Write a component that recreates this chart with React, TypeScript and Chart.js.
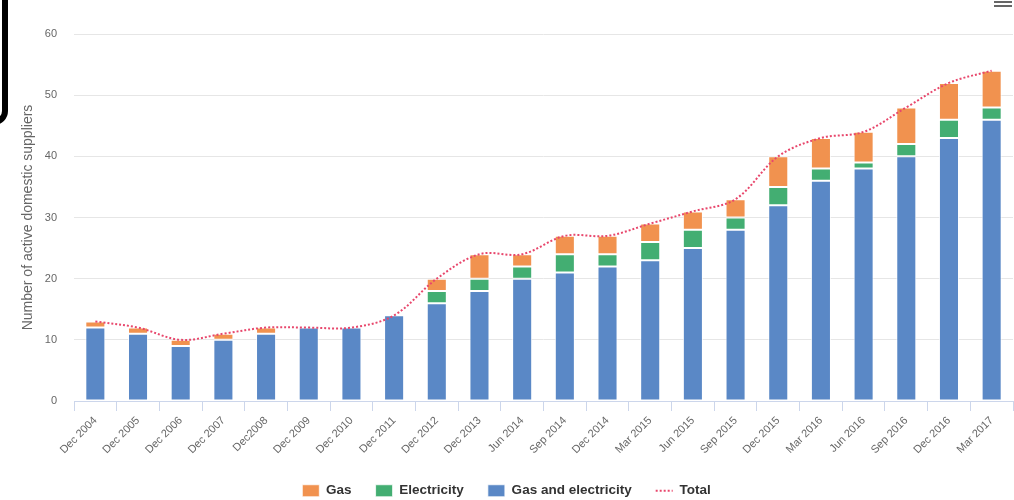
import React, { useEffect, useRef } from "react";
import { Chart, registerables } from "chart.js";

Chart.register(...registerables);

const categories = [
  "Dec 2004", "Dec 2005", "Dec 2006", "Dec 2007", "Dec2008", "Dec 2009",
  "Dec 2010", "Dec 2011", "Dec 2012", "Dec 2013", "Jun 2014", "Sep 2014",
  "Dec 2014", "Mar 2015", "Jun 2015", "Sep 2015", "Dec 2015", "Mar 2016",
  "Jun 2016", "Sep 2016", "Dec 2016", "Mar 2017",
];
const gasAndElectricity = [12, 11, 9, 10, 11, 12, 12, 14, 16, 18, 20, 21, 22, 23, 25, 28, 32, 36, 38, 40, 43, 46];
const electricity = [0, 0, 0, 0, 0, 0, 0, 0, 2, 2, 2, 3, 2, 3, 3, 2, 3, 2, 1, 2, 3, 2];
const gas = [1, 1, 1, 1, 1, 0, 0, 0, 2, 4, 2, 3, 3, 3, 3, 3, 5, 5, 5, 6, 6, 6];
const total = [13, 12, 10, 11, 12, 12, 12, 14, 20, 24, 24, 27, 27, 29, 31, 33, 40, 43, 44, 48, 52, 54];
const yTicks = [0, 10, 20, 30, 40, 50, 60];

const BLUE = "#5a88c6";
const GREEN = "#43ae72";
const ORANGE = "#f1924f";
const PINK = "#e8476c";
const FONT = "'Liberation Sans', Arial, sans-serif";

// legend order: Gas, Electricity, Gas and electricity, Total
const legendRank: Record<number, number> = { 3: 0, 2: 1, 1: 2, 0: 3 };

export default function App() {
  const ref = useRef<HTMLCanvasElement>(null);

  useEffect(() => {
    const barCommon = {
      borderColor: "rgba(255,255,255,0.75)",
      borderWidth: 1,
      borderSkipped: false,
      pointStyle: "rect",
      stack: "s",
    };
    const defaultGen = (Chart.defaults.plugins.legend.labels as any).generateLabels;
    const chart = new Chart(ref.current as HTMLCanvasElement, {
      type: "bar",
      data: {
        labels: categories,
        datasets: [
          {
            type: "line",
            label: "Total",
            data: total,
            borderColor: PINK,
            backgroundColor: PINK,
            borderWidth: 2,
            borderDash: [2, 2],
            pointRadius: 0,
            tension: 0.35,
            fill: false,
            pointStyle: "line",
          } as any,
          { label: "Gas and electricity", data: gasAndElectricity, backgroundColor: BLUE, ...barCommon } as any,
          { label: "Electricity", data: electricity, backgroundColor: GREEN, ...barCommon } as any,
          { label: "Gas", data: gas, backgroundColor: ORANGE, ...barCommon } as any,
        ],
      },
      options: {
        responsive: false,
        animation: false,
        devicePixelRatio: 1,
        layout: { padding: { top: 34, left: 0, right: 1, bottom: -7.5 } },
        datasets: { bar: { categoryPercentage: 1, barPercentage: 0.47 } } as any,
        plugins: {
          tooltip: { enabled: false },
          legend: {
            position: "bottom",
            labels: {
              usePointStyle: true,
              pointStyleWidth: 17,
              boxHeight: 12,
              padding: 24,
              color: "#333",
              font: { family: FONT, size: 13.5, weight: "bold" },
              generateLabels: (c: any) =>
                defaultGen(c).map((item: any) =>
                  item.datasetIndex === 0
                    ? { ...item, pointStyle: "line", strokeStyle: PINK, lineWidth: 2, lineDash: [2, 2] }
                    : item
                ),
              sort: (a: any, b: any) => legendRank[a.datasetIndex] - legendRank[b.datasetIndex],
            },
          },
        },
        scales: {
          x: {
            stacked: true,
            grid: {
              offset: true,
              drawOnChartArea: false,
              drawTicks: true,
              tickLength: 10,
              color: "#ccd6eb",
            },
            border: { display: true, color: "#ccd6eb" },
            ticks: {
              autoSkip: false,
              minRotation: 45,
              maxRotation: 45,
              padding: 3,
              color: "#666",
              font: { family: FONT, size: 11 },
            },
            afterFit: (scale: any) => {
              scale.height = 59;
            },
          },
          y: {
            stacked: true,
            min: 0,
            max: 60,
            afterBuildTicks: (scale: any) => {
              scale.ticks = yTicks.map((v) => ({ value: v }));
            },
            grid: { color: "#e6e6e6", drawTicks: false },
            border: { display: false },
            ticks: {
              padding: 17,
              color: "#666",
              font: { family: FONT, size: 11 },
            },
            title: {
              display: true,
              text: "Number of active domestic suppliers",
              color: "#666",
              font: { family: FONT, size: 14 },
              padding: { top: 20, bottom: 0 },
            },
            afterFit: (scale: any) => {
              scale.width = 74;
            },
          },
        },
      } as any,
    });
    return () => chart.destroy();
  }, []);

  return (
    <div style={{ position: "fixed", left: 0, top: 0, width: 1014, height: 500, background: "#fff", overflow: "hidden" }}>
      <canvas ref={ref} width={1014} height={500} style={{ display: "block", width: 1014, height: 500 }} />
      <div
        style={{
          position: "absolute",
          left: -30,
          top: -10,
          width: 38,
          height: 135,
          boxSizing: "border-box",
          border: "6px solid #000",
          borderRadius: "0 0 14px 0",
        }}
      />
      <div style={{ position: "absolute", left: 994, top: 1, width: 18, height: 2, background: "#666" }} />
      <div style={{ position: "absolute", left: 994, top: 5, width: 18, height: 2, background: "#666" }} />
    </div>
  );
}
